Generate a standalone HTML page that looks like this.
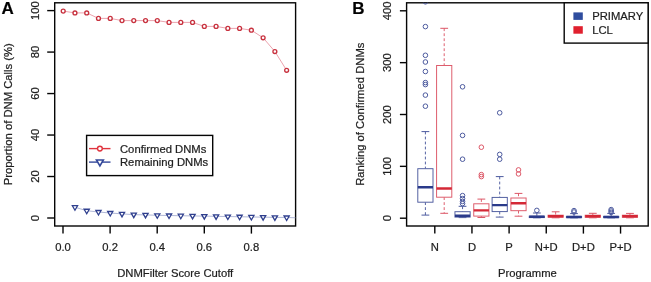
<!DOCTYPE html>
<html><head><meta charset="utf-8"><style>
html,body{margin:0;padding:0;background:#fff;width:651px;height:282px;overflow:hidden}
svg{display:block;font-family:"Liberation Sans",sans-serif;will-change:transform}
text{stroke:#1e1e1e;stroke-width:0.22px}
</style></head><body>
<svg width="651" height="282" viewBox="0 0 651 282">
<text x="1.6" y="14.0" font-size="17" font-weight="bold" fill="#000">A</text>
<rect x="54.7" y="2.8" width="240.90" height="223.20" fill="none" stroke="#050505" stroke-width="1.4"/>
<line x1="47.2" y1="218.00" x2="54.7" y2="218.00" stroke="#050505" stroke-width="1.4"/>
<text transform="translate(38.8,218.00) rotate(-90)" text-anchor="middle" font-size="11.25" fill="#1e1e1e">0</text>
<line x1="47.2" y1="176.52" x2="54.7" y2="176.52" stroke="#050505" stroke-width="1.4"/>
<text transform="translate(38.8,176.52) rotate(-90)" text-anchor="middle" font-size="11.25" fill="#1e1e1e">20</text>
<line x1="47.2" y1="135.04" x2="54.7" y2="135.04" stroke="#050505" stroke-width="1.4"/>
<text transform="translate(38.8,135.04) rotate(-90)" text-anchor="middle" font-size="11.25" fill="#1e1e1e">40</text>
<line x1="47.2" y1="93.56" x2="54.7" y2="93.56" stroke="#050505" stroke-width="1.4"/>
<text transform="translate(38.8,93.56) rotate(-90)" text-anchor="middle" font-size="11.25" fill="#1e1e1e">60</text>
<line x1="47.2" y1="52.08" x2="54.7" y2="52.08" stroke="#050505" stroke-width="1.4"/>
<text transform="translate(38.8,52.08) rotate(-90)" text-anchor="middle" font-size="11.25" fill="#1e1e1e">80</text>
<line x1="47.2" y1="10.60" x2="54.7" y2="10.60" stroke="#050505" stroke-width="1.4"/>
<text transform="translate(38.8,10.60) rotate(-90)" text-anchor="middle" font-size="11.25" fill="#1e1e1e">100</text>
<line x1="63.00" y1="226.0" x2="63.00" y2="233.6" stroke="#050505" stroke-width="1.4"/>
<text x="63.00" y="250.8" text-anchor="middle" font-size="11.25" fill="#1e1e1e">0.0</text>
<line x1="110.10" y1="226.0" x2="110.10" y2="233.6" stroke="#050505" stroke-width="1.4"/>
<text x="110.10" y="250.8" text-anchor="middle" font-size="11.25" fill="#1e1e1e">0.2</text>
<line x1="157.20" y1="226.0" x2="157.20" y2="233.6" stroke="#050505" stroke-width="1.4"/>
<text x="157.20" y="250.8" text-anchor="middle" font-size="11.25" fill="#1e1e1e">0.4</text>
<line x1="204.30" y1="226.0" x2="204.30" y2="233.6" stroke="#050505" stroke-width="1.4"/>
<text x="204.30" y="250.8" text-anchor="middle" font-size="11.25" fill="#1e1e1e">0.6</text>
<line x1="251.40" y1="226.0" x2="251.40" y2="233.6" stroke="#050505" stroke-width="1.4"/>
<text x="251.40" y="250.8" text-anchor="middle" font-size="11.25" fill="#1e1e1e">0.8</text>
<text x="175.2" y="277.2" text-anchor="middle" font-size="11.25" fill="#1e1e1e">DNMFilter Score Cutoff</text>
<text transform="translate(12.4,114.2) rotate(-90)" text-anchor="middle" font-size="11.25" fill="#1e1e1e">Proportion of DNM Calls (%)</text>
<polyline points="63.20,11.10 74.96,12.90 86.72,12.90 98.48,18.40 110.24,18.40 122.00,20.60 133.76,20.60 145.52,20.60 157.28,20.60 169.04,22.40 180.80,22.40 192.56,22.40 204.32,26.40 216.08,26.40 227.84,28.40 239.60,28.40 251.36,30.20 263.12,37.80 274.88,51.50 286.64,70.30" fill="none" stroke="#e07080" stroke-width="0.65"/>
<circle cx="63.20" cy="11.10" r="1.95" fill="#fff" stroke="#c8323f" stroke-width="1.35"/>
<circle cx="74.96" cy="12.90" r="1.95" fill="#fff" stroke="#c8323f" stroke-width="1.35"/>
<circle cx="86.72" cy="12.90" r="1.95" fill="#fff" stroke="#c8323f" stroke-width="1.35"/>
<circle cx="98.48" cy="18.40" r="1.95" fill="#fff" stroke="#c8323f" stroke-width="1.35"/>
<circle cx="110.24" cy="18.40" r="1.95" fill="#fff" stroke="#c8323f" stroke-width="1.35"/>
<circle cx="122.00" cy="20.60" r="1.95" fill="#fff" stroke="#c8323f" stroke-width="1.35"/>
<circle cx="133.76" cy="20.60" r="1.95" fill="#fff" stroke="#c8323f" stroke-width="1.35"/>
<circle cx="145.52" cy="20.60" r="1.95" fill="#fff" stroke="#c8323f" stroke-width="1.35"/>
<circle cx="157.28" cy="20.60" r="1.95" fill="#fff" stroke="#c8323f" stroke-width="1.35"/>
<circle cx="169.04" cy="22.40" r="1.95" fill="#fff" stroke="#c8323f" stroke-width="1.35"/>
<circle cx="180.80" cy="22.40" r="1.95" fill="#fff" stroke="#c8323f" stroke-width="1.35"/>
<circle cx="192.56" cy="22.40" r="1.95" fill="#fff" stroke="#c8323f" stroke-width="1.35"/>
<circle cx="204.32" cy="26.40" r="1.95" fill="#fff" stroke="#c8323f" stroke-width="1.35"/>
<circle cx="216.08" cy="26.40" r="1.95" fill="#fff" stroke="#c8323f" stroke-width="1.35"/>
<circle cx="227.84" cy="28.40" r="1.95" fill="#fff" stroke="#c8323f" stroke-width="1.35"/>
<circle cx="239.60" cy="28.40" r="1.95" fill="#fff" stroke="#c8323f" stroke-width="1.35"/>
<circle cx="251.36" cy="30.20" r="1.95" fill="#fff" stroke="#c8323f" stroke-width="1.35"/>
<circle cx="263.12" cy="37.80" r="1.95" fill="#fff" stroke="#c8323f" stroke-width="1.35"/>
<circle cx="274.88" cy="51.50" r="1.95" fill="#fff" stroke="#c8323f" stroke-width="1.35"/>
<circle cx="286.64" cy="70.30" r="1.95" fill="#fff" stroke="#c8323f" stroke-width="1.35"/>
<polyline points="74.96,207.22 86.72,210.74 98.48,211.99 110.24,213.02 122.00,213.85 133.76,214.68 145.52,214.89 157.28,215.30 169.04,215.51 180.80,215.72 192.56,215.93 204.32,216.13 216.08,216.34 227.84,216.55 239.60,216.76 251.36,216.96 263.12,217.17 274.88,217.38 286.64,217.48 295.60,217.79" fill="none" stroke="#8e98c4" stroke-width="0.7"/>
<polygon points="72.36,205.72 77.56,205.72 74.96,210.22" fill="#fff" stroke="#2f3f8e" stroke-width="1.3" stroke-linejoin="miter"/>
<polygon points="84.12,209.24 89.32,209.24 86.72,213.74" fill="#fff" stroke="#2f3f8e" stroke-width="1.3" stroke-linejoin="miter"/>
<polygon points="95.88,210.49 101.08,210.49 98.48,214.99" fill="#fff" stroke="#2f3f8e" stroke-width="1.3" stroke-linejoin="miter"/>
<polygon points="107.64,211.52 112.84,211.52 110.24,216.02" fill="#fff" stroke="#2f3f8e" stroke-width="1.3" stroke-linejoin="miter"/>
<polygon points="119.40,212.35 124.60,212.35 122.00,216.85" fill="#fff" stroke="#2f3f8e" stroke-width="1.3" stroke-linejoin="miter"/>
<polygon points="131.16,213.18 136.36,213.18 133.76,217.68" fill="#fff" stroke="#2f3f8e" stroke-width="1.3" stroke-linejoin="miter"/>
<polygon points="142.92,213.39 148.12,213.39 145.52,217.89" fill="#fff" stroke="#2f3f8e" stroke-width="1.3" stroke-linejoin="miter"/>
<polygon points="154.68,213.80 159.88,213.80 157.28,218.30" fill="#fff" stroke="#2f3f8e" stroke-width="1.3" stroke-linejoin="miter"/>
<polygon points="166.44,214.01 171.64,214.01 169.04,218.51" fill="#fff" stroke="#2f3f8e" stroke-width="1.3" stroke-linejoin="miter"/>
<polygon points="178.20,214.22 183.40,214.22 180.80,218.72" fill="#fff" stroke="#2f3f8e" stroke-width="1.3" stroke-linejoin="miter"/>
<polygon points="189.96,214.43 195.16,214.43 192.56,218.93" fill="#fff" stroke="#2f3f8e" stroke-width="1.3" stroke-linejoin="miter"/>
<polygon points="201.72,214.63 206.92,214.63 204.32,219.13" fill="#fff" stroke="#2f3f8e" stroke-width="1.3" stroke-linejoin="miter"/>
<polygon points="213.48,214.84 218.68,214.84 216.08,219.34" fill="#fff" stroke="#2f3f8e" stroke-width="1.3" stroke-linejoin="miter"/>
<polygon points="225.24,215.05 230.44,215.05 227.84,219.55" fill="#fff" stroke="#2f3f8e" stroke-width="1.3" stroke-linejoin="miter"/>
<polygon points="237.00,215.26 242.20,215.26 239.60,219.76" fill="#fff" stroke="#2f3f8e" stroke-width="1.3" stroke-linejoin="miter"/>
<polygon points="248.76,215.46 253.96,215.46 251.36,219.96" fill="#fff" stroke="#2f3f8e" stroke-width="1.3" stroke-linejoin="miter"/>
<polygon points="260.52,215.67 265.72,215.67 263.12,220.17" fill="#fff" stroke="#2f3f8e" stroke-width="1.3" stroke-linejoin="miter"/>
<polygon points="272.28,215.88 277.48,215.88 274.88,220.38" fill="#fff" stroke="#2f3f8e" stroke-width="1.3" stroke-linejoin="miter"/>
<polygon points="284.04,215.98 289.24,215.98 286.64,220.48" fill="#fff" stroke="#2f3f8e" stroke-width="1.3" stroke-linejoin="miter"/>
<rect x="86.6" y="135.4" width="126.1" height="40.2" fill="#fff" stroke="#050505" stroke-width="1.4"/>
<line x1="89" y1="148.6" x2="110.5" y2="148.6" stroke="#e0343e" stroke-width="1.4"/>
<circle cx="99.9" cy="148.6" r="2.4" fill="#fff" stroke="#e0343e" stroke-width="1.4"/>
<line x1="89" y1="162.1" x2="110.5" y2="162.1" stroke="#34489a" stroke-width="1.4"/>
<polygon points="96.44,160.00 103.36,160.00 99.90,166.00" fill="#fff" stroke="#34489a" stroke-width="1.6" stroke-linejoin="miter"/>
<text x="120" y="152.7" font-size="11.25" fill="#1e1e1e">Confirmed DNMs</text>
<text x="120" y="165.9" font-size="11.25" fill="#1e1e1e">Remaining DNMs</text>
<text x="352.2" y="14.2" font-size="17" font-weight="bold" fill="#000">B</text>
<rect x="406.6" y="2.8" width="241.60" height="223.20" fill="none" stroke="#050505" stroke-width="1.4"/>
<line x1="399.9" y1="218.20" x2="406.6" y2="218.20" stroke="#050505" stroke-width="1.4"/>
<text transform="translate(391.4,218.20) rotate(-90)" text-anchor="middle" font-size="11.25" fill="#1e1e1e">0</text>
<line x1="399.9" y1="166.35" x2="406.6" y2="166.35" stroke="#050505" stroke-width="1.4"/>
<text transform="translate(391.4,166.35) rotate(-90)" text-anchor="middle" font-size="11.25" fill="#1e1e1e">100</text>
<line x1="399.9" y1="114.50" x2="406.6" y2="114.50" stroke="#050505" stroke-width="1.4"/>
<text transform="translate(391.4,114.50) rotate(-90)" text-anchor="middle" font-size="11.25" fill="#1e1e1e">200</text>
<line x1="399.9" y1="62.65" x2="406.6" y2="62.65" stroke="#050505" stroke-width="1.4"/>
<text transform="translate(391.4,62.65) rotate(-90)" text-anchor="middle" font-size="11.25" fill="#1e1e1e">300</text>
<line x1="399.9" y1="10.80" x2="406.6" y2="10.80" stroke="#050505" stroke-width="1.4"/>
<text transform="translate(391.4,10.80) rotate(-90)" text-anchor="middle" font-size="11.25" fill="#1e1e1e">400</text>
<line x1="434.80" y1="226.0" x2="434.80" y2="233.6" stroke="#050505" stroke-width="1.4"/>
<text x="434.80" y="250.6" text-anchor="middle" font-size="11.25" fill="#1e1e1e">N</text>
<line x1="471.95" y1="226.0" x2="471.95" y2="233.6" stroke="#050505" stroke-width="1.4"/>
<text x="471.95" y="250.6" text-anchor="middle" font-size="11.25" fill="#1e1e1e">D</text>
<line x1="509.10" y1="226.0" x2="509.10" y2="233.6" stroke="#050505" stroke-width="1.4"/>
<text x="509.10" y="250.6" text-anchor="middle" font-size="11.25" fill="#1e1e1e">P</text>
<line x1="546.25" y1="226.0" x2="546.25" y2="233.6" stroke="#050505" stroke-width="1.4"/>
<text x="546.25" y="250.6" text-anchor="middle" font-size="11.25" fill="#1e1e1e">N+D</text>
<line x1="583.40" y1="226.0" x2="583.40" y2="233.6" stroke="#050505" stroke-width="1.4"/>
<text x="583.40" y="250.6" text-anchor="middle" font-size="11.25" fill="#1e1e1e">D+D</text>
<line x1="620.55" y1="226.0" x2="620.55" y2="233.6" stroke="#050505" stroke-width="1.4"/>
<text x="620.55" y="250.6" text-anchor="middle" font-size="11.25" fill="#1e1e1e">P+D</text>
<text x="527.4" y="277.0" text-anchor="middle" font-size="11.25" fill="#1e1e1e">Programme</text>
<text transform="translate(364.3,114.2) rotate(-90)" text-anchor="middle" font-size="11.25" fill="#1e1e1e">Ranking of Confirmed DNMs</text>
<clipPath id="cb"><rect x="406.6" y="2.8" width="241.60" height="223.20"/></clipPath>
<g clip-path="url(#cb)">
<line x1="425.40" y1="131.60" x2="425.40" y2="168.70" stroke="#4c5a9e" stroke-width="0.95" stroke-dasharray="2.8,2.2"/>
<line x1="425.40" y1="202.20" x2="425.40" y2="215.10" stroke="#4c5a9e" stroke-width="0.95" stroke-dasharray="2.8,2.2"/>
<line x1="421.50" y1="131.60" x2="429.30" y2="131.60" stroke="#4c5a9e" stroke-width="1"/>
<line x1="421.50" y1="215.10" x2="429.30" y2="215.10" stroke="#4c5a9e" stroke-width="1"/>
<rect x="417.80" y="168.70" width="15.20" height="33.50" fill="#fff" stroke="#4c5a9e" stroke-width="0.95"/>
<line x1="417.80" y1="187.30" x2="433.00" y2="187.30" stroke="#2a3a8a" stroke-width="2.4"/>
<circle cx="425.40" cy="1.80" r="2.3" fill="none" stroke="#4c5a9e" stroke-width="1"/>
<circle cx="425.40" cy="26.60" r="2.3" fill="none" stroke="#4c5a9e" stroke-width="1"/>
<circle cx="425.40" cy="55.30" r="2.3" fill="none" stroke="#4c5a9e" stroke-width="1"/>
<circle cx="425.40" cy="62.00" r="2.3" fill="none" stroke="#4c5a9e" stroke-width="1"/>
<circle cx="425.40" cy="71.50" r="2.3" fill="none" stroke="#4c5a9e" stroke-width="1"/>
<circle cx="425.40" cy="82.60" r="2.3" fill="none" stroke="#4c5a9e" stroke-width="1"/>
<circle cx="425.40" cy="84.60" r="2.3" fill="none" stroke="#4c5a9e" stroke-width="1"/>
<circle cx="425.40" cy="95.10" r="2.3" fill="none" stroke="#4c5a9e" stroke-width="1"/>
<circle cx="425.40" cy="106.20" r="2.3" fill="none" stroke="#4c5a9e" stroke-width="1"/>
<line x1="444.20" y1="28.30" x2="444.20" y2="65.50" stroke="#dc5666" stroke-width="0.95" stroke-dasharray="2.8,2.2"/>
<line x1="444.20" y1="197.20" x2="444.20" y2="213.30" stroke="#dc5666" stroke-width="0.95" stroke-dasharray="2.8,2.2"/>
<line x1="440.30" y1="28.30" x2="448.10" y2="28.30" stroke="#dc5666" stroke-width="1"/>
<line x1="440.30" y1="213.30" x2="448.10" y2="213.30" stroke="#dc5666" stroke-width="1"/>
<rect x="436.60" y="65.50" width="15.20" height="131.70" fill="#fff" stroke="#dc5666" stroke-width="0.95"/>
<line x1="436.60" y1="188.50" x2="451.80" y2="188.50" stroke="#d42836" stroke-width="2.4"/>
<line x1="462.55" y1="206.30" x2="462.55" y2="211.70" stroke="#4c5a9e" stroke-width="0.95" stroke-dasharray="2.8,2.2"/>
<line x1="462.55" y1="217.10" x2="462.55" y2="217.60" stroke="#4c5a9e" stroke-width="0.95" stroke-dasharray="2.8,2.2"/>
<line x1="458.65" y1="206.30" x2="466.45" y2="206.30" stroke="#4c5a9e" stroke-width="1"/>
<line x1="458.65" y1="217.60" x2="466.45" y2="217.60" stroke="#4c5a9e" stroke-width="1"/>
<rect x="454.95" y="211.70" width="15.20" height="5.40" fill="#fff" stroke="#4c5a9e" stroke-width="0.95"/>
<line x1="454.95" y1="215.70" x2="470.15" y2="215.70" stroke="#2a3a8a" stroke-width="2.4"/>
<circle cx="462.55" cy="86.80" r="2.3" fill="none" stroke="#4c5a9e" stroke-width="1"/>
<circle cx="462.55" cy="135.40" r="2.3" fill="none" stroke="#4c5a9e" stroke-width="1"/>
<circle cx="462.55" cy="159.20" r="2.3" fill="none" stroke="#4c5a9e" stroke-width="1"/>
<circle cx="462.55" cy="195.60" r="2.3" fill="none" stroke="#4c5a9e" stroke-width="1"/>
<circle cx="462.55" cy="198.60" r="2.3" fill="none" stroke="#4c5a9e" stroke-width="1"/>
<circle cx="462.55" cy="201.40" r="2.3" fill="none" stroke="#4c5a9e" stroke-width="1"/>
<circle cx="462.55" cy="203.60" r="2.3" fill="none" stroke="#4c5a9e" stroke-width="1"/>
<line x1="481.35" y1="199.10" x2="481.35" y2="203.80" stroke="#dc5666" stroke-width="0.95" stroke-dasharray="2.8,2.2"/>
<line x1="481.35" y1="216.10" x2="481.35" y2="217.50" stroke="#dc5666" stroke-width="0.95" stroke-dasharray="2.8,2.2"/>
<line x1="477.45" y1="199.10" x2="485.25" y2="199.10" stroke="#dc5666" stroke-width="1"/>
<line x1="477.45" y1="217.50" x2="485.25" y2="217.50" stroke="#dc5666" stroke-width="1"/>
<rect x="473.75" y="203.80" width="15.20" height="12.30" fill="#fff" stroke="#dc5666" stroke-width="0.95"/>
<line x1="473.75" y1="210.40" x2="488.95" y2="210.40" stroke="#d42836" stroke-width="2.4"/>
<circle cx="481.35" cy="147.20" r="2.3" fill="none" stroke="#dc5666" stroke-width="1"/>
<circle cx="481.35" cy="174.60" r="2.3" fill="none" stroke="#dc5666" stroke-width="1"/>
<circle cx="481.35" cy="176.60" r="2.3" fill="none" stroke="#dc5666" stroke-width="1"/>
<line x1="499.70" y1="176.60" x2="499.70" y2="197.40" stroke="#4c5a9e" stroke-width="0.95" stroke-dasharray="2.8,2.2"/>
<line x1="499.70" y1="211.60" x2="499.70" y2="217.10" stroke="#4c5a9e" stroke-width="0.95" stroke-dasharray="2.8,2.2"/>
<line x1="495.80" y1="176.60" x2="503.60" y2="176.60" stroke="#4c5a9e" stroke-width="1"/>
<line x1="495.80" y1="217.10" x2="503.60" y2="217.10" stroke="#4c5a9e" stroke-width="1"/>
<rect x="492.10" y="197.40" width="15.20" height="14.20" fill="#fff" stroke="#4c5a9e" stroke-width="0.95"/>
<line x1="492.10" y1="205.10" x2="507.30" y2="205.10" stroke="#2a3a8a" stroke-width="2.4"/>
<circle cx="499.70" cy="112.80" r="2.3" fill="none" stroke="#4c5a9e" stroke-width="1"/>
<circle cx="499.70" cy="154.40" r="2.3" fill="none" stroke="#4c5a9e" stroke-width="1"/>
<circle cx="499.70" cy="159.20" r="2.3" fill="none" stroke="#4c5a9e" stroke-width="1"/>
<line x1="518.50" y1="193.40" x2="518.50" y2="198.00" stroke="#dc5666" stroke-width="0.95" stroke-dasharray="2.8,2.2"/>
<line x1="518.50" y1="210.70" x2="518.50" y2="216.20" stroke="#dc5666" stroke-width="0.95" stroke-dasharray="2.8,2.2"/>
<line x1="514.60" y1="193.40" x2="522.40" y2="193.40" stroke="#dc5666" stroke-width="1"/>
<line x1="514.60" y1="216.20" x2="522.40" y2="216.20" stroke="#dc5666" stroke-width="1"/>
<rect x="510.90" y="198.00" width="15.20" height="12.70" fill="#fff" stroke="#dc5666" stroke-width="0.95"/>
<line x1="510.90" y1="203.30" x2="526.10" y2="203.30" stroke="#d42836" stroke-width="2.4"/>
<circle cx="518.50" cy="169.90" r="2.3" fill="none" stroke="#dc5666" stroke-width="1"/>
<circle cx="518.50" cy="173.90" r="2.3" fill="none" stroke="#dc5666" stroke-width="1"/>
<line x1="536.85" y1="213.00" x2="536.85" y2="216.20" stroke="#4c5a9e" stroke-width="0.95" stroke-dasharray="2.8,2.2"/>
<line x1="536.85" y1="217.60" x2="536.85" y2="217.80" stroke="#4c5a9e" stroke-width="0.95" stroke-dasharray="2.8,2.2"/>
<line x1="532.95" y1="213.00" x2="540.75" y2="213.00" stroke="#4c5a9e" stroke-width="1"/>
<line x1="532.95" y1="217.80" x2="540.75" y2="217.80" stroke="#4c5a9e" stroke-width="1"/>
<rect x="529.25" y="216.20" width="15.20" height="1.40" fill="#fff" stroke="#4c5a9e" stroke-width="0.95"/>
<line x1="529.25" y1="216.80" x2="544.45" y2="216.80" stroke="#2a3a8a" stroke-width="2.4"/>
<circle cx="536.85" cy="210.40" r="2.3" fill="none" stroke="#4c5a9e" stroke-width="1"/>
<line x1="555.65" y1="211.80" x2="555.65" y2="215.20" stroke="#dc5666" stroke-width="0.95" stroke-dasharray="2.8,2.2"/>
<line x1="555.65" y1="217.20" x2="555.65" y2="217.80" stroke="#dc5666" stroke-width="0.95" stroke-dasharray="2.8,2.2"/>
<line x1="551.75" y1="211.80" x2="559.55" y2="211.80" stroke="#dc5666" stroke-width="1"/>
<line x1="551.75" y1="217.80" x2="559.55" y2="217.80" stroke="#dc5666" stroke-width="1"/>
<rect x="548.05" y="215.20" width="15.20" height="2.00" fill="#fff" stroke="#dc5666" stroke-width="0.95"/>
<line x1="548.05" y1="216.20" x2="563.25" y2="216.20" stroke="#d42836" stroke-width="2.4"/>
<line x1="574.00" y1="213.60" x2="574.00" y2="216.40" stroke="#4c5a9e" stroke-width="0.95" stroke-dasharray="2.8,2.2"/>
<line x1="574.00" y1="217.60" x2="574.00" y2="217.80" stroke="#4c5a9e" stroke-width="0.95" stroke-dasharray="2.8,2.2"/>
<line x1="570.10" y1="213.60" x2="577.90" y2="213.60" stroke="#4c5a9e" stroke-width="1"/>
<line x1="570.10" y1="217.80" x2="577.90" y2="217.80" stroke="#4c5a9e" stroke-width="1"/>
<rect x="566.40" y="216.40" width="15.20" height="1.20" fill="#fff" stroke="#4c5a9e" stroke-width="0.95"/>
<line x1="566.40" y1="217.00" x2="581.60" y2="217.00" stroke="#2a3a8a" stroke-width="2.4"/>
<circle cx="574.00" cy="210.60" r="2.3" fill="none" stroke="#4c5a9e" stroke-width="1"/>
<circle cx="574.00" cy="212.00" r="2.3" fill="none" stroke="#4c5a9e" stroke-width="1"/>
<line x1="592.80" y1="213.30" x2="592.80" y2="215.20" stroke="#dc5666" stroke-width="0.95" stroke-dasharray="2.8,2.2"/>
<line x1="592.80" y1="217.30" x2="592.80" y2="217.80" stroke="#dc5666" stroke-width="0.95" stroke-dasharray="2.8,2.2"/>
<line x1="588.90" y1="213.30" x2="596.70" y2="213.30" stroke="#dc5666" stroke-width="1"/>
<line x1="588.90" y1="217.80" x2="596.70" y2="217.80" stroke="#dc5666" stroke-width="1"/>
<rect x="585.20" y="215.20" width="15.20" height="2.10" fill="#fff" stroke="#dc5666" stroke-width="0.95"/>
<line x1="585.20" y1="216.20" x2="600.40" y2="216.20" stroke="#d42836" stroke-width="2.4"/>
<line x1="611.15" y1="213.40" x2="611.15" y2="216.40" stroke="#4c5a9e" stroke-width="0.95" stroke-dasharray="2.8,2.2"/>
<line x1="611.15" y1="217.60" x2="611.15" y2="217.80" stroke="#4c5a9e" stroke-width="0.95" stroke-dasharray="2.8,2.2"/>
<line x1="607.25" y1="213.40" x2="615.05" y2="213.40" stroke="#4c5a9e" stroke-width="1"/>
<line x1="607.25" y1="217.80" x2="615.05" y2="217.80" stroke="#4c5a9e" stroke-width="1"/>
<rect x="603.55" y="216.40" width="15.20" height="1.20" fill="#fff" stroke="#4c5a9e" stroke-width="0.95"/>
<line x1="603.55" y1="217.00" x2="618.75" y2="217.00" stroke="#2a3a8a" stroke-width="2.4"/>
<circle cx="611.15" cy="209.60" r="2.3" fill="none" stroke="#4c5a9e" stroke-width="1"/>
<circle cx="611.15" cy="211.00" r="2.3" fill="none" stroke="#4c5a9e" stroke-width="1"/>
<circle cx="611.15" cy="212.40" r="2.3" fill="none" stroke="#4c5a9e" stroke-width="1"/>
<line x1="629.95" y1="213.40" x2="629.95" y2="215.20" stroke="#dc5666" stroke-width="0.95" stroke-dasharray="2.8,2.2"/>
<line x1="629.95" y1="217.30" x2="629.95" y2="217.80" stroke="#dc5666" stroke-width="0.95" stroke-dasharray="2.8,2.2"/>
<line x1="626.05" y1="213.40" x2="633.85" y2="213.40" stroke="#dc5666" stroke-width="1"/>
<line x1="626.05" y1="217.80" x2="633.85" y2="217.80" stroke="#dc5666" stroke-width="1"/>
<rect x="622.35" y="215.20" width="15.20" height="2.10" fill="#fff" stroke="#dc5666" stroke-width="0.95"/>
<line x1="622.35" y1="216.20" x2="637.55" y2="216.20" stroke="#d42836" stroke-width="2.4"/>
</g>
<rect x="564.2" y="2.8" width="83.9" height="40.3" fill="#fff" stroke="#050505" stroke-width="1.4"/>
<rect x="573.4" y="12.4" width="9.4" height="7.5" fill="#2f4d9e"/>
<rect x="573.4" y="26.2" width="9.4" height="7.5" fill="#e0202e"/>
<text x="592.2" y="19.9" font-size="11.25" fill="#1e1e1e">PRIMARY</text>
<text x="592.2" y="33.7" font-size="11.25" fill="#1e1e1e">LCL</text>
</svg>
</body></html>
